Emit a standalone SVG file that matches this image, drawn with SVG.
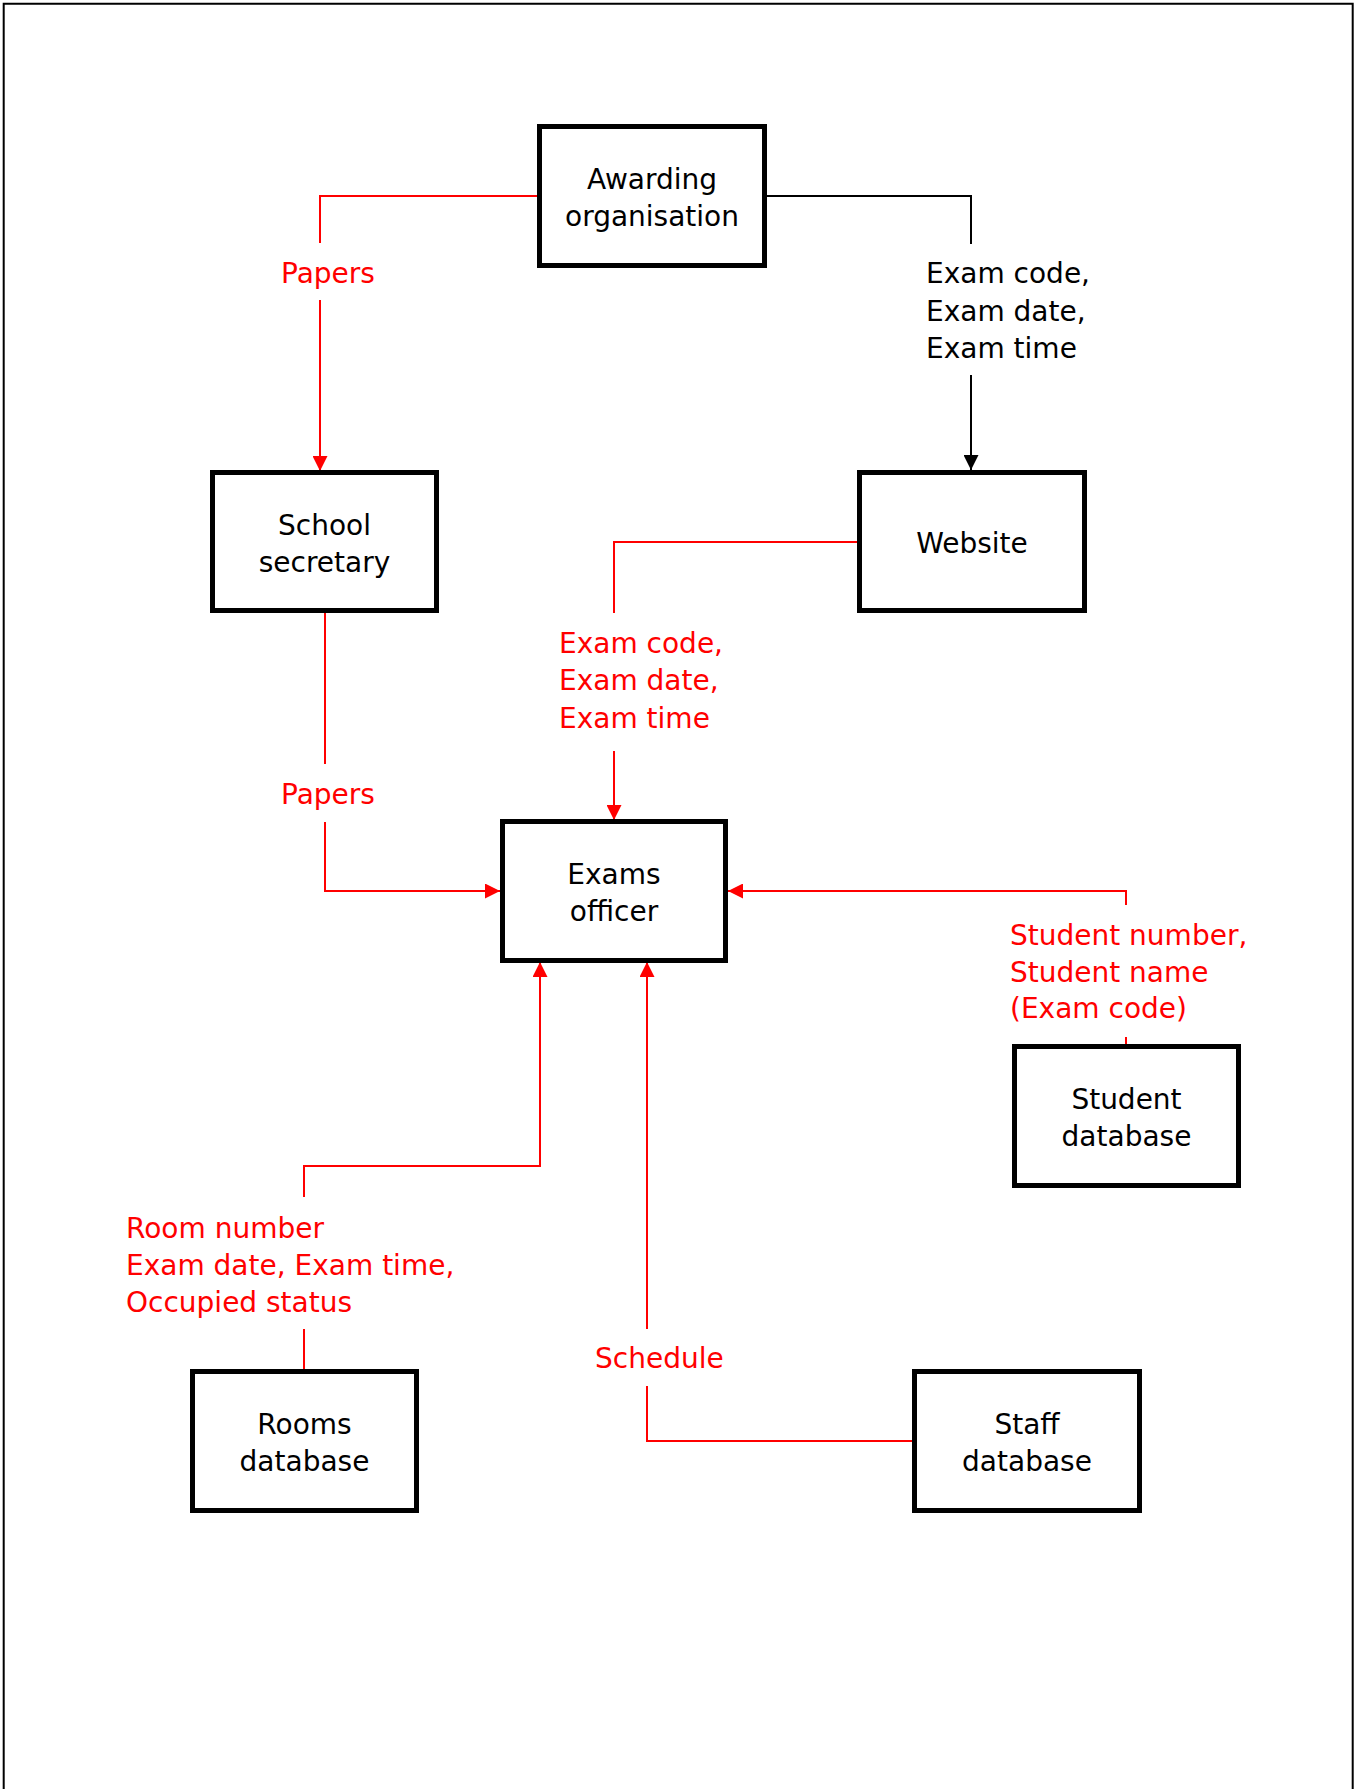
<svg xmlns="http://www.w3.org/2000/svg" width="1356" height="1789" viewBox="0 0 1356 1789">
<style>
  .box { fill: #ffffff; stroke: #000000; stroke-width: 5; }
  .nt { font-family: "DejaVu Sans", Verdana, sans-serif; font-size: 28px; fill: #000000; text-anchor: middle; }
  .lbl { font-family: "DejaVu Sans", Verdana, sans-serif; font-size: 28px; }
  .red { fill: #ff0000; }
  .blk { fill: #000000; }
  .cr { fill: none; stroke: #ff0000; stroke-width: 2; }
  .cb { fill: none; stroke: #000000; stroke-width: 2; }
</style>
<defs>
  <marker id="arrR" viewBox="0 0 15 15" refX="15" refY="7.5" markerWidth="15" markerHeight="15" markerUnits="userSpaceOnUse" orient="auto">
    <path d="M0,0 L15,7.5 L0,15 z" fill="#ff0000"/>
  </marker>
  <marker id="arrB" viewBox="0 0 15 15" refX="15" refY="7.5" markerWidth="15" markerHeight="15" markerUnits="userSpaceOnUse" orient="auto">
    <path d="M0,0 L15,7.5 L0,15 z" fill="#000000"/>
  </marker>
</defs>
<rect x="0" y="0" width="1356" height="1789" fill="#ffffff"/>
<path d="M3.7,1800 V3.7 H1352.7 V1800" fill="none" stroke="#000000" stroke-width="2"/>

<g id="connectors">
  <path class="cr" d="M539,196 H320 V243"/>
  <path class="cr" d="M320,300 V471" marker-end="url(#arrR)"/>
  <path class="cb" d="M767,196 H971 V244"/>
  <path class="cb" d="M971,375 V470" marker-end="url(#arrB)"/>
  <path class="cr" d="M857,542 H614 V613"/>
  <path class="cr" d="M614,751 V820" marker-end="url(#arrR)"/>
  <path class="cr" d="M325,613 V764"/>
  <path class="cr" d="M325,822 V891 H500" marker-end="url(#arrR)"/>
  <path class="cr" d="M1126,1044 V1037"/>
  <path class="cr" d="M1126,905 V891 H728" marker-end="url(#arrR)"/>
  <path class="cr" d="M304,1369 V1329"/>
  <path class="cr" d="M304,1197 V1166 H540 V962" marker-end="url(#arrR)"/>
  <path class="cr" d="M914,1441 H647 V1386"/>
  <path class="cr" d="M647,1329 V962" marker-end="url(#arrR)"/>
  <text class="lbl red" x="281" y="283">Papers</text>
  <text class="lbl blk" x="926" y="283">Exam code,</text>
  <text class="lbl blk" x="926" y="321">Exam date,</text>
  <text class="lbl blk" x="926" y="358">Exam time</text>
  <text class="lbl red" x="559" y="653">Exam code,</text>
  <text class="lbl red" x="559" y="690">Exam date,</text>
  <text class="lbl red" x="559" y="728">Exam time</text>
  <text class="lbl red" x="281" y="804">Papers</text>
  <text class="lbl red" x="1010" y="945">Student number,</text>
  <text class="lbl red" x="1010" y="982">Student name</text>
  <text class="lbl red" x="1010" y="1018">(Exam code)</text>
  <text class="lbl red" x="126" y="1238">Room number</text>
  <text class="lbl red" x="126" y="1275">Exam date, Exam time,</text>
  <text class="lbl red" x="126" y="1312">Occupied status</text>
  <text class="lbl red" x="595" y="1368">Schedule</text>
</g>

<g id="awarding">
  <rect class="box" x="539.5" y="126.5" width="225" height="139"/>
  <text class="nt" x="652" y="189">Awarding</text>
  <text class="nt" x="652" y="226">organisation</text>
</g>
<g id="school">
  <rect class="box" x="212.5" y="472.5" width="224" height="138"/>
  <text class="nt" x="324.5" y="535">School</text>
  <text class="nt" x="324.5" y="572">secretary</text>
</g>
<g id="website">
  <rect class="box" x="859.5" y="472.5" width="225" height="138"/>
  <text class="nt" x="972" y="553">Website</text>
</g>
<g id="exams">
  <rect class="box" x="502.5" y="821.5" width="223" height="139"/>
  <text class="nt" x="614" y="884">Exams</text>
  <text class="nt" x="614" y="921">officer</text>
</g>
<g id="student">
  <rect class="box" x="1014.5" y="1046.5" width="224" height="139"/>
  <text class="nt" x="1126.5" y="1109">Student</text>
  <text class="nt" x="1126.5" y="1146">database</text>
</g>
<g id="rooms">
  <rect class="box" x="192.5" y="1371.5" width="224" height="139"/>
  <text class="nt" x="304.5" y="1434">Rooms</text>
  <text class="nt" x="304.5" y="1471">database</text>
</g>
<g id="staff">
  <rect class="box" x="914.5" y="1371.5" width="225" height="139"/>
  <text class="nt" x="1027" y="1434">Staff</text>
  <text class="nt" x="1027" y="1471">database</text>
</g>
</svg>
